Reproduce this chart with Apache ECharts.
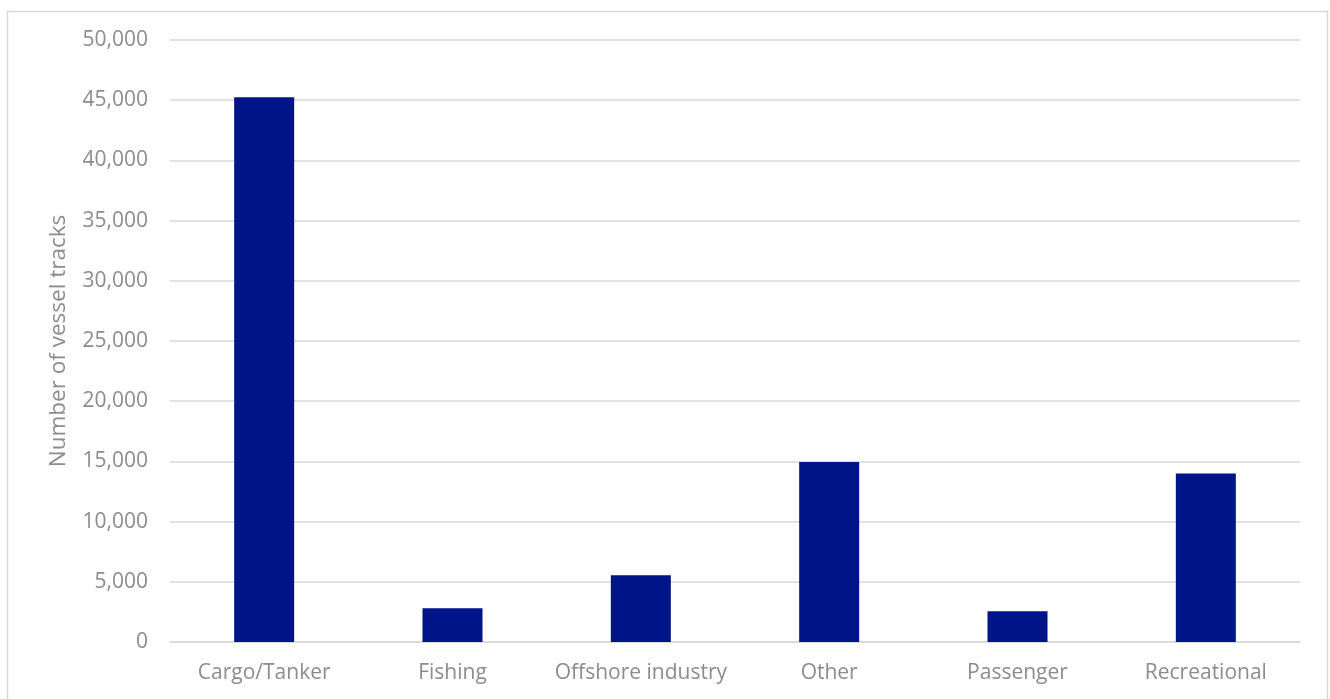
<!DOCTYPE html>
<html><head><meta charset="utf-8">
<script src="https://cdn.jsdelivr.net/npm/echarts@6/dist/echarts.min.js"></script>
<style>html,body{margin:0;padding:0;background:#fff}#c{width:1330px;height:699px}</style>
</head><body><div id="c"></div>
<script>
const categories = ['Cargo/Tanker','Fishing','Offshore industry','Other','Passenger','Recreational'];
const vesselTracks = [45250, 2800, 5550, 14950, 2550, 14000];
const yTicks = {min: 0, max: 50000, interval: 5000};
const yTitle = 'Number of vessel tracks';

const chart = echarts.init(document.getElementById('c'), null, {renderer:'canvas'});
const font = '"Open Sans", "Noto Sans", sans-serif';
chart.setOption({
  animation:false,
  backgroundColor:'#fff',
  graphic:[{type:'rect',shape:{x:7.5,y:11.5,width:1320,height:700},style:{fill:'none',stroke:'#d9d9d9',lineWidth:1.5},silent:true}],
  grid:{left:170,right:30,top:40,bottom:57,containLabel:false},
  xAxis:{type:'category',data:categories,
    axisLine:{show:true,lineStyle:{color:'#d9d9d9',width:1.5}},
    axisTick:{show:false},
    axisLabel:{color:'#8c8c8c',fontSize:21,fontFamily:font,margin:21,interval:0}},
  yAxis:{type:'value',min:yTicks.min,max:yTicks.max,interval:yTicks.interval,
    name:yTitle,nameLocation:'middle',nameGap:100,nameRotate:90,
    nameTextStyle:{color:'#8c8c8c',fontSize:22.5,fontFamily:font},
    axisLine:{show:false},axisTick:{show:false},
    axisLabel:{color:'#8c8c8c',fontSize:21,fontFamily:font,margin:22,
      formatter:v=>v.toLocaleString('en-US')},
    splitLine:{lineStyle:{color:'#d9d9d9',width:1.5}}},
  series:[{type:'bar',data:vesselTracks,barWidth:60,itemStyle:{color:'#001489'}}]
});
</script></body></html>
